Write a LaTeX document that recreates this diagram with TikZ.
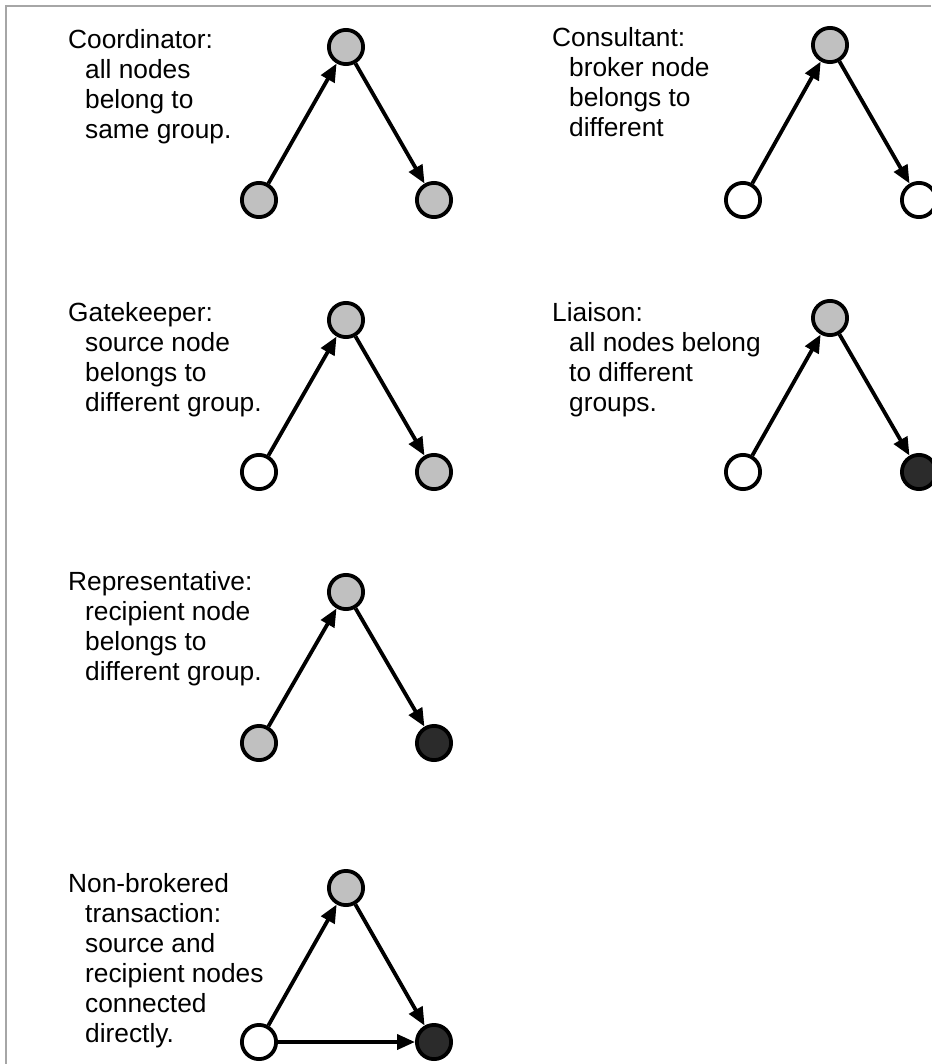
\documentclass[tikz,border=0pt]{standalone}
\usepackage{fontspec}
\setmainfont{Liberation Sans}
\usetikzlibrary{arrows.meta}
\definecolor{samegroup}{HTML}{C0C0C0}
\definecolor{othergroup}{HTML}{2B2B2B}
\newcommand{\indt}{\hspace*{17pt}}

\begin{document}
\begin{tikzpicture}[x=1pt,y=-1pt,
    vertex/.style={circle,draw=black,line width=3.8pt,minimum size=34.2pt,inner sep=0pt},
    grey/.style={vertex,fill=samegroup},
    black/.style={vertex,fill=othergroup},
    blank/.style={vertex,fill=white},
    flow/.style={line width=3.8pt,-{Triangle[length=18pt,width=15pt]}},
    role/.style={anchor=base west,inner sep=0pt,align=left,font=\fontsize{26.3}{30}\selectfont}]
    \useasboundingbox (0,0) rectangle (931,1064);
    \draw[gray!70,line width=2pt] (6,1064) -- (6,6) -- (931,6);
    % coordinator (text placed by its last line)
    \node[role] (t1) at (68,139) {Coordinator:\\\indt all nodes\\\indt belong to\\\indt same group.};
    \node[grey] (b1) at (346,47) {};
    \node[grey] (s1) at (259,200) {};
    \node[grey] (r1) at (434,200) {};
    \draw[flow] (s1) -- (b1);
    \draw[flow] (b1) -- (r1);
    % consultant
    \node[role] (t2) at (552,137) {Consultant:\\\indt broker node\\\indt belongs to\\\indt different};
    \node[grey] (b2) at (830,45) {};
    \node[blank] (s2) at (743,200) {};
    \node[blank] (r2) at (919,200) {};
    \draw[flow] (s2) -- (b2);
    \draw[flow] (b2) -- (r2);
    % gatekeeper
    \node[role] (t3) at (68,411) {Gatekeeper:\\\indt source node\\\indt belongs to\\\indt different group.};
    \node[grey] (b3) at (346,320) {};
    \node[blank] (s3) at (259,472) {};
    \node[grey] (r3) at (434,472) {};
    \draw[flow] (s3) -- (b3);
    \draw[flow] (b3) -- (r3);
    % liaison
    \node[role] (t4) at (552,411) {Liaison:\\\indt all nodes belong\\\indt to different\\\indt groups.};
    \node[grey] (b4) at (830,318) {};
    \node[blank] (s4) at (743,472) {};
    \node[black] (r4) at (919,472) {};
    \draw[flow] (s4) -- (b4);
    \draw[flow] (b4) -- (r4);
    % representative
    \node[role] (t5) at (68,680) {Representative:\\\indt recipient node\\\indt belongs to\\\indt different group.};
    \node[grey] (b5) at (346,592) {};
    \node[grey] (s5) at (259,743) {};
    \node[black] (r5) at (434,743) {};
    \draw[flow] (s5) -- (b5);
    \draw[flow] (b5) -- (r5);
    % non-brokered
    \node[role] (t6) at (68,1042) {Non-brokered\\\indt transaction:\\\indt source and\\\indt recipient nodes\\\indt connected\\\indt directly.};
    \node[grey] (b6) at (346,888) {};
    \node[blank] (s6) at (259,1042) {};
    \node[black] (r6) at (434,1042) {};
    \draw[flow] (s6) -- (b6);
    \draw[flow] (b6) -- (r6);
    \draw[flow] (s6) -- (r6);
\end{tikzpicture}
\end{document}
